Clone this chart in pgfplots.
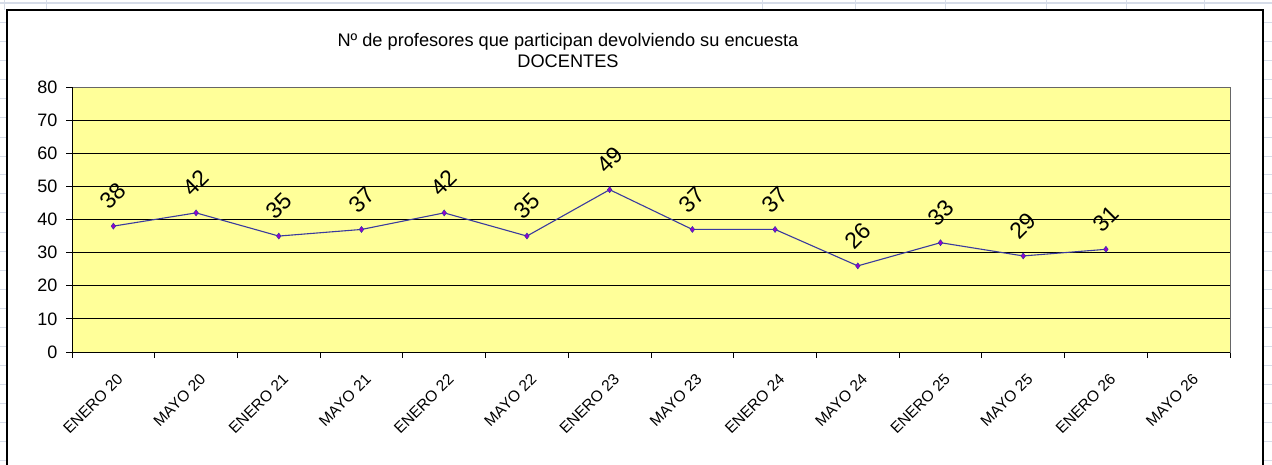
\documentclass[border=0pt]{standalone}
\usepackage{pgfplots}
\pgfplotsset{compat=1.18}
\usepackage{fontspec}
\setmainfont{Liberation Sans}
\definecolor{plotyellow}{HTML}{FFFF99}
\definecolor{sheetgrid}{HTML}{D6DCE8}
\definecolor{linenavy}{HTML}{3A3A9E}
\definecolor{markfill}{HTML}{9A00C8}
\definecolor{markedge}{HTML}{3030B0}
\begin{document}
\begin{tikzpicture}[x=1pt,y=1pt]
\useasboundingbox (0,0) rectangle (1272,464);
\fill[white] (0,0) rectangle (1272,464);
% spreadsheet background grid
\draw[sheetgrid, line width=1.5pt] (0,461) -- (1272,461);
\foreach \xx in {4,46,762,855,945,1046,1126,1204} \draw[sheetgrid] (\xx,464) -- (\xx,454);
\foreach \yy in {442,423,404,385,366,347,327,308,290,271,252,232,213,194,175,156,137,118,99,80,61,42,23,4}
  {\draw[sheetgrid] (0,\yy) -- (7,\yy); \draw[sheetgrid] (1263,\yy) -- (1272,\yy);}
% chart area
\draw[black, line width=1.3pt, fill=white] (7,-10) rectangle (1263,454);
% title
\node[font=\fontsize{18.2}{21.5}\selectfont, align=center] at (568,413.5) {Nº de profesores que participan devolviendo su encuesta\\DOCENTES};
\begin{axis}[
  at={(72pt,112pt)}, anchor=south west,
  width=1158pt, height=265pt, scale only axis,
  xmin=-0.5, xmax=13.5, ymin=0, ymax=80,
  axis background/.style={fill=plotyellow},
  axis line style={draw=gray!80!black, line width=1pt},
  ytick={0,10,...,80},
  xtick={-0.5,0.5,...,13.5},
  x tick label as interval=true,
  xticklabels={ENERO 20,MAYO 20,ENERO 21,MAYO 21,ENERO 22,MAYO 22,ENERO 23,MAYO 23,ENERO 24,MAYO 24,ENERO 25,MAYO 25,ENERO 26,MAYO 26},
  xtick pos=bottom, ytick pos=left,
  tick align=outside, major tick length=6pt,
  tick style={draw=black, line width=1pt},
  ymajorgrids, major grid style={draw=black, line width=0.9pt},
  /pgf/number format/assume math mode=true,
  yticklabel style={font=\fontsize{18}{18}\selectfont, xshift=-5pt},
  xticklabel style={font=\fontsize{15.5}{16}\selectfont, rotate=45, anchor=north east, xshift=-5pt, yshift=-9pt},
  clip=false,
]
\addplot[linenavy, line width=1.1pt, mark=diamond*, mark size=3pt,
  mark options={fill=markfill, draw=markedge, line width=0.5pt},
  nodes near coords,
  every node near coord/.append style={font=\fontsize{23}{23}\selectfont, text=black, yshift=30pt, rotate=45, anchor=center},
] coordinates {
  (0,38) (1,42) (2,35) (3,37) (4,42) (5,35) (6,49) (7,37) (8,37) (9,26) (10,33) (11,29) (12,31)
};
\draw[black, line width=1pt] (rel axis cs:0,0) -- (rel axis cs:0,1);
\draw[black, line width=1pt] (rel axis cs:0,0) -- (rel axis cs:1,0);
\end{axis}
\end{tikzpicture}
\end{document}
